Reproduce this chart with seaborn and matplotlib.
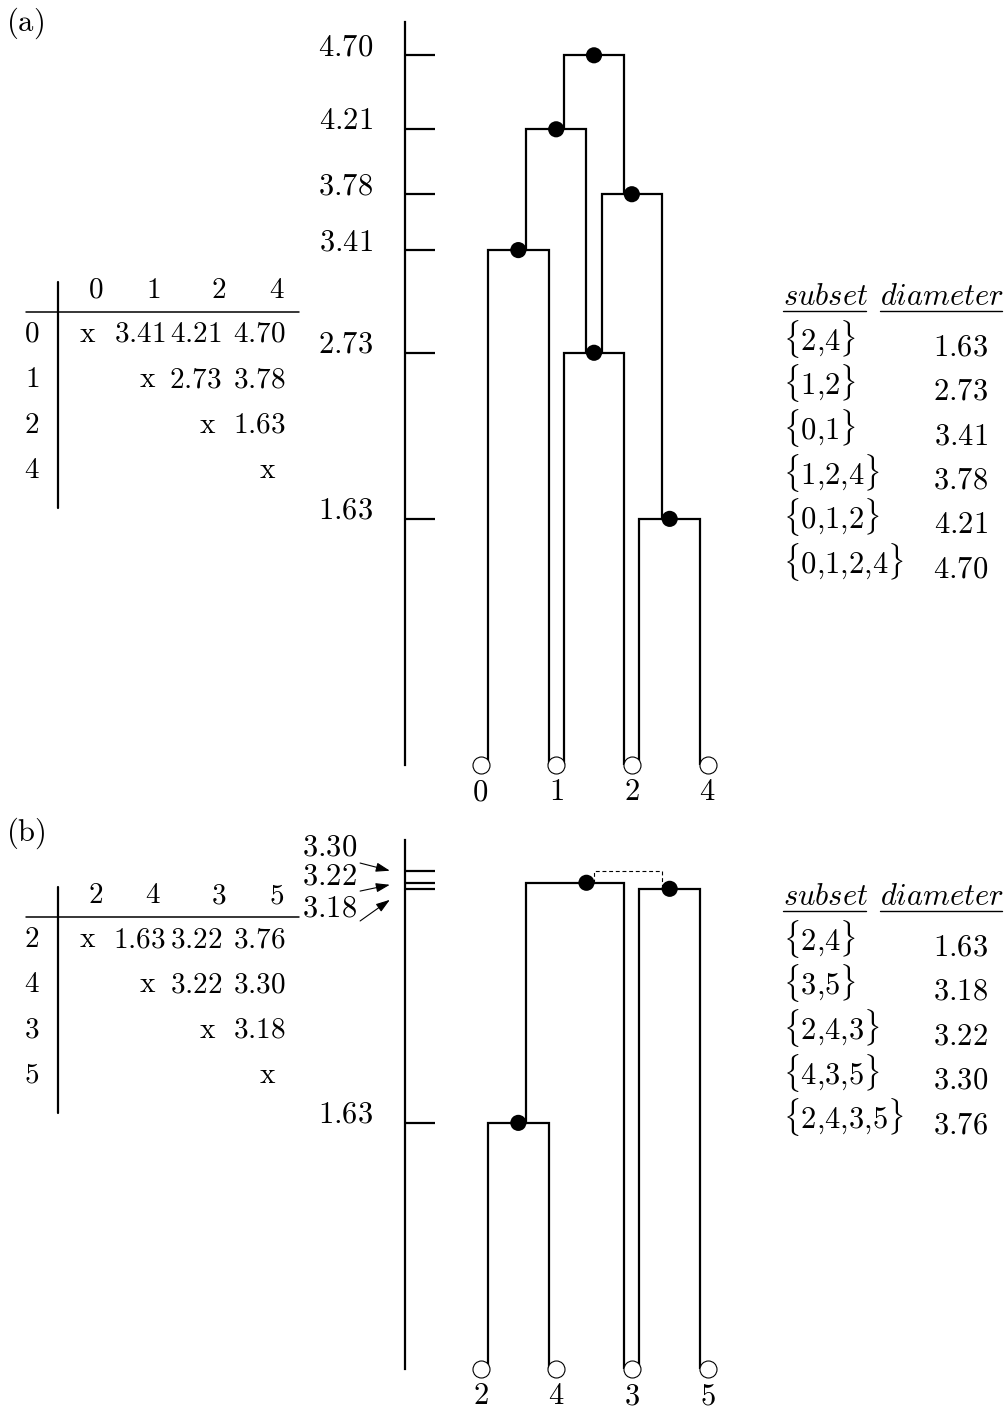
import matplotlib
matplotlib.use("Agg")
import matplotlib.pyplot as plt
import numpy as np
import pandas as pd
import seaborn as sns
from matplotlib.transforms import offset_copy

sns.set_theme(style="white")
plt.rcParams["font.family"] = ["DejaVu Serif"]
plt.rcParams["mathtext.fontset"] = "cm"
plt.rcParams["text.color"] = "black"

# ─────────────────────────────────────────────
# DATA
# ─────────────────────────────────────────────

# panel (a)
leaves_a = ["0", "1", "2", "4"]
dist_a = [[0, 3.41, 4.21, 4.70],
          [3.41, 0, 2.73, 3.78],
          [4.21, 2.73, 0, 1.63],
          [4.70, 3.78, 1.63, 0]]
subsets_a = ["2,4", "1,2", "0,1", "1,2,4", "0,1,2", "0,1,2,4"]
diam_a = [1.63, 2.73, 3.41, 3.78, 4.21, 4.70]
left_a = ["2", "1", "0", "1,2", "0,1", "0,1,2"]
right_a = ["4", "2", "1", "2,4", "1,2", "1,2,4"]
node_x_a = [2.5, 1.5, 0.5, 2.0, 1.0, 1.5]
kind_a = ["solid"] * 6
ticks_a = [1.63, 2.73, 3.41, 3.78, 4.21, 4.70]
top_a = 4.92

# panel (b)
leaves_b = ["2", "4", "3", "5"]
dist_b = [[0, 1.63, 3.22, 3.76],
          [1.63, 0, 3.22, 3.30],
          [3.22, 3.22, 0, 3.18],
          [3.76, 3.30, 3.18, 0]]
subsets_b = ["2,4", "3,5", "2,4,3", "4,3,5", "2,4,3,5"]
diam_b = [1.63, 3.18, 3.22, 3.30, 3.76]
left_b = ["2", "3", "2,4", "2,4,3"]
right_b = ["4", "5", "3", "3,5"]
node_x_b = [0.5, 2.5, 1.4, 1.95]
kind_b = ["solid", "solid", "solid", "dashed"]
ticks_b = [1.63, 3.18, 3.22, 3.30]
arrow_ticks_b = [3.30, 3.22, 3.18]
top_b = 3.505

# ─────────────────────────────────────────────
# LAYOUT (pixels)
# ─────────────────────────────────────────────
W, H = 1005, 1410
SLOT = 75.67      # px between leaves
UNIT = 151.0      # px per unit of diameter
X0 = 480.5        # px column of the first leaf
R = 0.1           # offset of a branch from its child centre, in slots
FS = 22
FS_TAB = 21

fig = plt.figure(figsize=(W / 100, H / 100), dpi=100)

canvas = fig.add_axes([0, 0, 1, 1])
canvas.set_xlim(0, W)
canvas.set_ylim(H, 0)
canvas.axis("off")


def dendro_axes(y0, top):
    xlim = (-1, 3.4)
    left = X0 + xlim[0] * SLOT
    ax = fig.add_axes([left / W, (H - y0) / H,
                       (xlim[1] - xlim[0]) * SLOT / W, top * UNIT / H])
    ax.set_xlim(*xlim)
    ax.set_ylim(0, top)
    return ax


def build_paths(leaves, subsets, heights, lefts, rights, node_x, kinds):
    pos = {l: (i, 0.0) for i, l in enumerate(leaves)}
    for s, h, nx in zip(subsets, heights, node_x):
        pos[s] = (nx, h)
    rows = []
    for s, l, r, k in zip(subsets, lefts, rights, kinds):
        h = pos[s][1]
        xl, yl = pos[l]
        xr, yr = pos[r]
        for x, y in [(xl + R, yl), (xl + R, h), (xr - R, h), (xr - R, yr)]:
            rows.append({"node": s, "x": x, "y": y, "kind": k})
    return pd.DataFrame(rows)


def draw_dendro(ax, leaves, subsets, heights, lefts, rights, node_x, kinds,
                ticks, tick_labels):
    df = build_paths(leaves, subsets, heights, lefts, rights, node_x, kinds)
    solid = df[df["kind"] == "solid"]
    sns.lineplot(data=solid, x="x", y="y", units="node", estimator=None,
                 sort=False, color="black", lw=1.6, legend=False, ax=ax,
                 solid_joinstyle="miter")
    dashed = df[df["kind"] == "dashed"]
    for _, g in dashed.groupby("node"):
        ax.plot(g["x"], g["y"], color="black", lw=0.8, ls=(0, (3.5, 2.5)))

    n = len(node_x)
    dots = pd.DataFrame({"x": node_x, "y": heights[:n], "kind": kinds})
    dots = dots[dots["kind"] == "solid"]
    sns.scatterplot(data=dots, x="x", y="y", s=135, color="black",
                    edgecolor="none", zorder=4, ax=ax, legend=False)
    sns.scatterplot(x=np.arange(len(leaves)), y=np.zeros(len(leaves)), s=150,
                    facecolor="white", edgecolor="black", linewidth=0.8,
                    zorder=4, clip_on=False, ax=ax, legend=False)

    ax.set_facecolor("none")
    ax.grid(False)
    ax.set_xlabel("")
    ax.set_ylabel("")
    for side in ["top", "right", "bottom"]:
        ax.spines[side].set_visible(False)
    ax.spines["left"].set_color("black")
    ax.spines["left"].set_linewidth(1.6)

    ax.set_yticks(ticks, tick_labels)
    ax.tick_params(axis="y", left=True, direction="in", length=21.6,
                   width=1.6, pad=23, labelsize=FS, color="black",
                   labelcolor="black")
    for t in ax.get_yticklabels():
        t.set_verticalalignment("baseline")
    ax.set_xticks(range(len(leaves)), [f"${l}$" for l in leaves])
    ax.tick_params(axis="x", bottom=False, length=0, pad=8, labelsize=FS,
                   labelcolor="black")


def draw_matrix(labels, dist, top):
    # top: baseline row of the header line
    hx = [96, 153, 219, 277]
    xx = [88, 148, 208, 268]
    nr = [None, 166, 222, 286]     # right edges of the number columns
    canvas.plot([57.5, 57.5], [top - 16, top + 210], color="black", lw=1.6)
    canvas.plot([26, 299], [top + 14, top + 14], color="black", lw=1.1)
    for j, lab in enumerate(labels):
        canvas.text(hx[j], top, f"${lab}$", ha="center", va="baseline",
                    fontsize=FS_TAB)
    for i, lab in enumerate(labels):
        yb = top + 44 + 45.3 * i
        canvas.text(32, yb, f"${lab}$", ha="center", va="baseline",
                    fontsize=FS_TAB)
        for j in range(i, len(labels)):
            if j == i:
                canvas.text(xx[j], yb, r"$\mathrm{x}$", ha="center",
                            va="baseline", fontsize=FS_TAB)
            else:
                canvas.text(nr[j], yb, f"${dist[i][j]:.2f}$", ha="right",
                            va="baseline", fontsize=FS_TAB)


def draw_subsets(subsets, diam, top):
    canvas.text(783, top, r"$\mathit{subset}$", ha="left", va="baseline",
                fontsize=FS)
    canvas.plot([783, 866], [top + 6, top + 6], color="black", lw=1.0)
    canvas.text(880, top, r"$\mathit{diameter}$", ha="left", va="baseline",
                fontsize=FS)
    canvas.plot([880, 1002], [top + 6, top + 6], color="black", lw=1.0)
    for i, (s, d) in enumerate(zip(subsets, diam)):
        label = r"$\{" + s.replace(",", "{,}") + r"\}$"
        canvas.text(783, top + 45 + 44.6 * i, label, ha="left",
                    va="baseline", fontsize=FS)
        canvas.text(988, top + 50 + 44.6 * i, f"${d:.2f}$", ha="right",
                    va="baseline", fontsize=FS)


# ─────────────────────────────────────────────
# PANEL (a)
# ─────────────────────────────────────────────
canvas.text(6, 31, r"$(\mathrm{a})$", ha="left", va="baseline", fontsize=FS)
draw_matrix(leaves_a, dist_a, 298)
draw_subsets(subsets_a, diam_a, 305)
ax_a = dendro_axes(765, top_a)
draw_dendro(ax_a, leaves_a, subsets_a, diam_a, left_a, right_a, node_x_a,
            kind_a, ticks_a, [f"${t:.2f}$" for t in ticks_a])

# ─────────────────────────────────────────────
# PANEL (b)
# ─────────────────────────────────────────────
canvas.text(6, 841, r"$(\mathrm{b})$", ha="left", va="baseline", fontsize=FS)
draw_matrix(leaves_b, dist_b, 903)
draw_subsets(subsets_b, diam_b, 905)
ax_b = dendro_axes(1369, top_b)
draw_dendro(ax_b, leaves_b, subsets_b, diam_b, left_b, right_b, node_x_b,
            kind_b, ticks_b, ["$1.63$", "", "", ""])

# fanned arrows for the three crowded ticks
tip_shift = [0, -2, -11]          # px, spreads the arrow tips apart
text_off = [(-33, 15.5), (-33, 0), (-33, -16.5)]
for v, dy, off in zip(arrow_ticks_b, tip_shift, text_off):
    tr = offset_copy(ax_b.get_yaxis_transform(), fig=fig, x=-15, y=dy,
                     units="dots")
    ax_b.annotate(f"${v:.2f}$", xy=(0, v), xycoords=tr, xytext=off,
                  textcoords="offset pixels", ha="right", va="baseline",
                  fontsize=FS, annotation_clip=False,
                  arrowprops=dict(arrowstyle="-|>,head_length=0.6,head_width=0.2",
                                  mutation_scale=14, color="black", lw=0.8,
                                  shrinkA=0, shrinkB=0, relpos=(1, 0)))

fig.savefig("out.png", dpi=100)
